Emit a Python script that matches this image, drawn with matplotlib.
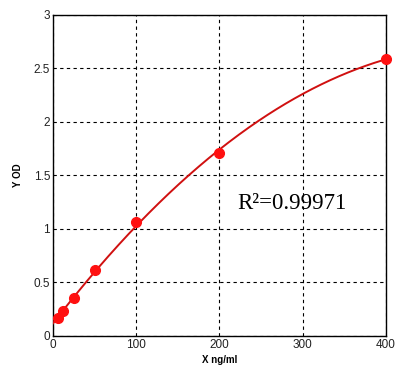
import numpy as np
import matplotlib.pyplot as plt

# --- standard curve data ---
conc = np.array([6.25, 12.5, 25, 50, 100, 200, 400])        # X ng/ml
od = np.array([0.17, 0.23, 0.35, 0.62, 1.06, 1.71, 2.59])    # Y OD
r2_text = "R²=0.99971"

xticks = [0, 100, 200, 300, 400]
yticks = [0, 0.5, 1, 1.5, 2, 2.5, 3]

# fitted curve (quadratic through the standards)
coef = np.polyfit(conc, od, 2)
xs = np.linspace(0, 400, 300)
ys = np.polyval(coef, xs)

fig = plt.figure(figsize=(4.1, 3.72), dpi=100)
ax = fig.add_axes([0.129, 0.097, 0.812, 0.863])

ax.plot(xs, ys, color='#d01010', linewidth=1.4, zorder=3)
ax.plot(conc, od, 'o', color='#ff1010', markersize=7, zorder=4, clip_on=False)

ax.set_xlim(0, 400)
ax.set_ylim(0, 3)
ax.set_xticks(xticks)
ax.set_yticks(yticks)
ax.set_xticklabels([str(t) for t in xticks])
ax.set_yticklabels(['0', '0.5', '1', '1.5', '2', '2.5', '3'])
ax.tick_params(length=0, pad=2, labelsize=8.5, labelcolor='#222222')
for lab in ax.get_xticklabels() + ax.get_yticklabels():
    lab.set_family('Liberation Sans')

ax.grid(True, color='black', linestyle=(0, (3, 3)), linewidth=0.8)
for s in ax.spines.values():
    s.set_linewidth(1.0)
    s.set_color('black')

ax.set_xlabel("X ng/ml", fontsize=7, fontweight='bold', family='Liberation Sans', labelpad=3)
ax.set_ylabel("Y OD", fontsize=7, fontweight='bold', family='Liberation Sans', labelpad=8)

ax.text(0.555, 0.395, r2_text, transform=ax.transAxes, fontsize=16.5,
        family='Liberation Serif', color='black', zorder=2)

fig.savefig('out.png', dpi=100)
